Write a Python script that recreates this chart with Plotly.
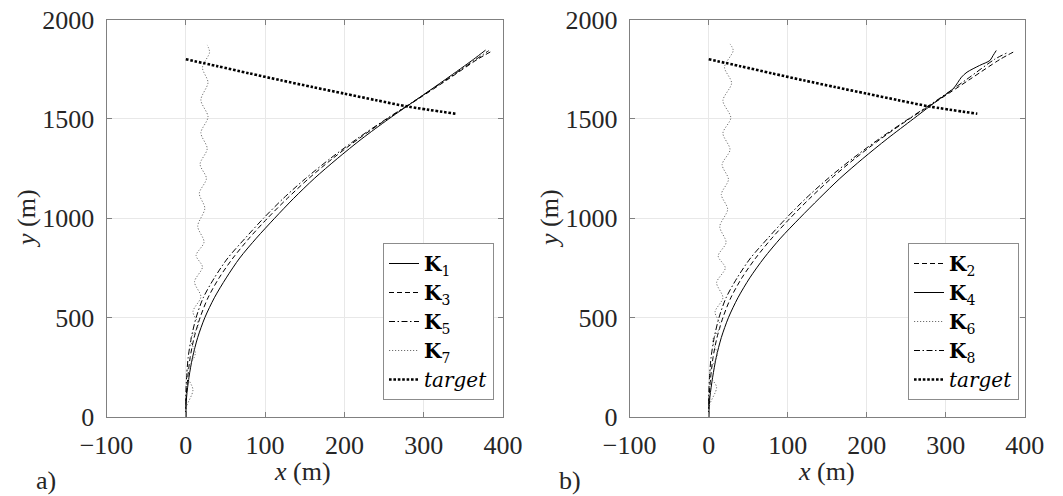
import plotly.graph_objects as go

# ---------------- data ----------------
# left panel (a)
k1_y = [0, 100, 200, 300, 400, 500, 600, 700, 800, 900, 1000, 1100, 1200, 1300, 1400, 1500, 1600, 1700, 1800, 1846]
k1_x = [0, 1, 4, 8.5, 15, 24, 36, 51, 68, 89, 112, 136, 162, 191, 222, 256, 292, 328, 363, 378]

k3_y = [0, 100, 200, 300, 400, 500, 600, 700, 800, 900, 1000, 1100, 1200, 1300, 1400, 1500, 1600, 1700, 1800, 1841]
k3_x = [0, 0.5, 2.5, 5.5, 10.5, 18, 28, 42, 59.5, 80, 103, 128, 155, 185, 218, 254, 293, 331, 368, 386]

k5_y = [0, 100, 200, 300, 400, 500, 600, 700, 800, 900, 1000, 1100, 1200, 1300, 1400, 1500, 1600, 1700, 1800, 1843]
k5_x = [0, 0, 1, 3, 7, 13, 22, 36, 53, 75, 98, 123, 151, 182, 216, 253, 292, 329.5, 366, 382]

k7_y = [0, 53, 136, 220, 320, 390, 462, 530, 605, 680, 755, 813, 880, 960, 1050, 1125, 1200, 1272, 1350, 1430, 1510, 1595, 1683, 1758, 1835, 1872]
k7_x = [0, 1, 9, 1, 12, 6, 16, 9, 19, 11, 21, 13, 23, 15, 24, 17, 26, 18, 27, 19, 28, 19, 28, 21, 30, 27]

# right panel (b)
k4_y = [0, 100, 200, 300, 400, 500, 600, 700, 800, 900, 1000, 1100, 1200, 1300, 1400, 1500, 1564, 1600, 1652, 1710, 1735, 1769, 1794, 1819, 1844]
k4_x = [0, 1.5, 5, 9.5, 16, 25, 37, 52, 70, 91, 115, 140, 166, 195, 226, 259, 280, 292, 309.6, 320, 327, 343, 356, 360, 364]

k2_y = [0, 100, 200, 300, 400, 500, 600, 700, 800, 900, 1000, 1100, 1200, 1300, 1400, 1500, 1600, 1700, 1800, 1839]
k2_x = [0, 0.5, 2.5, 5.5, 10.5, 18, 28, 42, 59.5, 80, 103, 128, 155, 185, 218, 254, 293, 331, 369, 387]

k8_y = [0, 100, 200, 300, 400, 500, 600, 700, 800, 900, 1000, 1100, 1200, 1300, 1400, 1500, 1600, 1700, 1800, 1831]
k8_x = [0, 0, 1, 3, 7, 13, 22, 36, 53, 75, 98, 123, 151, 182, 216, 253, 291, 327, 362, 377]

k6_y = [0, 60, 150, 215, 315, 385, 458, 528, 600, 676, 750, 810, 878, 958, 1045, 1120, 1195, 1270, 1345, 1428, 1505, 1592, 1680, 1760, 1844, 1877]
k6_x = [0, 1, 10, 1, 11, 5, 15, 8, 18, 10, 21, 12, 22, 14, 24, 16, 25, 17, 27, 18, 28, 18, 29, 20, 31, 27]

target_x = [0, 40, 80, 120, 160, 200, 240, 280, 340]
target_y = [1800, 1765, 1729, 1694, 1660, 1627, 1594, 1562, 1526]

x_ticks = [-100, 0, 100, 200, 300, 400]
y_ticks = [0, 500, 1000, 1500, 2000]

# ---------------- styles ----------------
FONT = "Liberation Serif, Times New Roman, serif"
LEG_FONT = "DejaVu Serif, serif"
SOLID = dict(color="black", width=1, dash="solid")
DASH = dict(color="black", width=1, dash="5px,3px")
DASHDOT = dict(color="black", width=1, dash="6px,2.5px,1.5px,2.5px")
DOT = dict(color="#707070", width=1, dash="1.2px,1.8px")
TARGET = dict(color="black", width=2.6, dash="2.6px,1.8px")

fig = go.Figure()

def add(x, y, name, line, xa, ya, leg):
    fig.add_trace(go.Scatter(x=x, y=y, mode="lines", name=name, line=dict(shape="spline", smoothing=0.8, **line),
                             xaxis=xa, yaxis=ya, legend=leg))

add(k1_x, k1_y, "<b>K</b><sub>1</sub>", SOLID, "x", "y", "legend")
add(k3_x, k3_y, "<b>K</b><sub>3</sub>", DASH, "x", "y", "legend")
add(k5_x, k5_y, "<b>K</b><sub>5</sub>", DASHDOT, "x", "y", "legend")
add(k7_x, k7_y, "<b>K</b><sub>7</sub>", DOT, "x", "y", "legend")
add(target_x, target_y, "<i>target</i>", TARGET, "x", "y", "legend")

add(k2_x, k2_y, "<b>K</b><sub>2</sub>", DASH, "x2", "y2", "legend2")
add(k4_x, k4_y, "<b>K</b><sub>4</sub>", SOLID, "x2", "y2", "legend2")
add(k6_x, k6_y, "<b>K</b><sub>6</sub>", DOT, "x2", "y2", "legend2")
add(k8_x, k8_y, "<b>K</b><sub>8</sub>", DASHDOT, "x2", "y2", "legend2")
add(target_x, target_y, "<i>target</i>", TARGET, "x2", "y2", "legend2")

W, H = 1063, 496
ydom = [1 - 417 / H, 1 - 19.5 / H]
xdom1 = [106.5 / W, 503 / W]
xdom2 = [629.7 / W, 1024.7 / W]

axis_common = dict(showline=True, linecolor="#808080", linewidth=1, mirror="ticks",
                   ticks="inside", ticklen=5, tickcolor="#808080", tickwidth=1,
                   showgrid=True, gridcolor="#e8e8e8", gridwidth=1, zeroline=False,
                   automargin=False,
                   tickfont=dict(family=FONT, size=26, color="#262626"))

xa = dict(range=[-100, 400], tickvals=x_ticks, ticklabelstandoff=5, **axis_common)
ya = dict(range=[0, 2000], tickvals=y_ticks, ticklabelstandoff=6, **axis_common)

legend_common = dict(bgcolor="white", bordercolor="#8c8c8c", borderwidth=1,
                     font=dict(family=LEG_FONT, size=20, color="black"), tracegroupgap=0,
                     xanchor="left", yanchor="top", itemwidth=30)

fig.update_layout(
    width=W, height=H, autosize=False,
    margin=dict(l=0, r=0, t=0, b=0, pad=0, autoexpand=False),
    paper_bgcolor="white", plot_bgcolor="white",
    xaxis=dict(domain=xdom1, anchor="y", **xa),
    yaxis=dict(domain=ydom, anchor="x", **ya),
    xaxis2=dict(domain=xdom2, anchor="y2", **xa),
    yaxis2=dict(domain=ydom, anchor="x2", **ya),
    legend=dict(x=383 / W, y=1 - 243 / H, **legend_common),
    legend2=dict(x=908 / W, y=1 - 243 / H, **legend_common),
    showlegend=True,
)

ann_font = dict(family=FONT, size=26, color="#262626")
annotations = [
    dict(text="<i>y</i> (m)", x=26 / W, y=1 - 219 / H, textangle=-90),
    dict(text="<i>y</i> (m)", x=549 / W, y=1 - 219 / H, textangle=-90),
    dict(text="<i>x</i> (m)", x=302 / W, y=1 - 471 / H),
    dict(text="<i>x</i> (m)", x=826 / W, y=1 - 471 / H),
    dict(text="a)", x=46 / W, y=1 - 480 / H),
    dict(text="b)", x=570 / W, y=1 - 480 / H),
]
for a in annotations:
    fig.add_annotation(xref="paper", yref="paper", showarrow=False, xanchor="center", yanchor="middle",
                       font=ann_font, **a)

fig.write_html("out.html")
